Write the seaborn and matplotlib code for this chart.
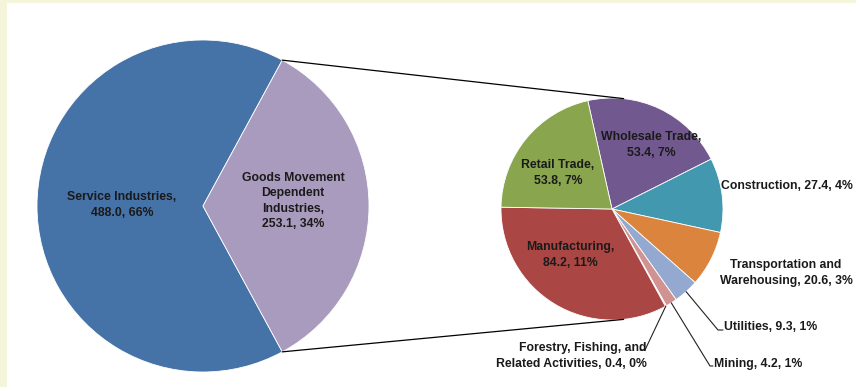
import numpy as np
import matplotlib
matplotlib.use("Agg")
import matplotlib.pyplot as plt
import seaborn as sns
from matplotlib.patches import Rectangle

sns.set_theme(style="white")
plt.rcParams['font.family'] = ['Liberation Sans', 'DejaVu Sans']

# ---- data ----
main_labels = ["Service Industries", "Goods Movement\nDependent\nIndustries"]
main_values = [488.0, 253.1]
main_pct = ["66%", "34%"]

sub_labels = ["Wholesale Trade", "Construction", "Transportation and\nWarehousing",
              "Utilities", "Mining", "Forestry, Fishing, and\nRelated Activities",
              "Manufacturing", "Retail Trade"]
sub_values = [53.4, 27.4, 20.6, 9.3, 4.2, 0.4, 84.2, 53.8]
sub_pct = ["7%", "4%", "3%", "1%", "1%", "0%", "11%", "7%"]

main_colors = ["#4572A7", "#A99BBD"]
sub_colors = ["#71588F", "#4198AF", "#DB843D", "#93A9CF", "#D19392", "#B9CD96",
              "#AA4643", "#89A54E"]

W, H = 856, 387
fig = plt.figure(figsize=(W / 100, H / 100), dpi=100)
fig.patch.set_facecolor("#F5F5DC")
ax = fig.add_axes([0, 0, 1, 1])
ax.set_xlim(0, W)
ax.set_ylim(0, H)
ax.set_aspect("equal")
ax.axis("off")
ax.add_patch(Rectangle((7, 0), W - 7, H - 3, facecolor="white", edgecolor="none", zorder=0))

def Y(y):
    return H - y

# main pie
c1 = (203, Y(206)); r1 = 166
goods_frac = main_values[1] / sum(main_values)
start1 = goods_frac * 360 / 2
w1, _ = ax.pie(main_values, colors=main_colors, startangle=start1, center=c1, radius=r1,
               frame=True, wedgeprops=dict(linewidth=0.6, edgecolor="white"))

# sub pie
c2 = (612, Y(209)); r2 = 111
w2, _ = ax.pie(sub_values, colors=sub_colors, startangle=102.6, counterclock=False,
               center=c2, radius=r2, frame=True,
               wedgeprops=dict(linewidth=0.6, edgecolor="white"))
ax.set_xlim(0, W)
ax.set_ylim(0, H)
ax.axis("off")

# connector lines
g = w1[1]
for th, th2 in [(g.theta2, 84), (g.theta1, -84)]:
    p1 = (c1[0] + r1 * np.cos(np.radians(th)), c1[1] + r1 * np.sin(np.radians(th)))
    p2 = (c2[0] + r2 * np.cos(np.radians(th2)), c2[1] + r2 * np.sin(np.radians(th2)))
    ax.plot([p1[0], p2[0]], [p1[1], p2[1]], color="black", lw=0.9, zorder=3)

fs = 8.8
tkw = dict(fontsize=fs, fontweight="bold", color="#1a1a1a", linespacing=1.35, zorder=5)

def lab(i, labels, values, pct):
    return f"{labels[i]}, {values[i]:.1f}, {pct[i]}"

ax.text(122, Y(205), f"{main_labels[0]},\n{main_values[0]:.1f}, {main_pct[0]}",
        ha="center", va="center", **tkw)
ax.text(293, Y(201), f"{main_labels[1]},\n{main_values[1]:.1f}, {main_pct[1]}",
        ha="center", va="center", **tkw)

ax.text(651, Y(145), f"{sub_labels[0]},\n{sub_values[0]:.1f}, {sub_pct[0]}", ha="center", va="center", **tkw)
ax.text(558, Y(173), f"{sub_labels[7]},\n{sub_values[7]:.1f}, {sub_pct[7]}", ha="center", va="center", **tkw)
ax.text(570, Y(255), f"{sub_labels[6]},\n{sub_values[6]:.1f}, {sub_pct[6]}", ha="center", va="center", **tkw)
ax.text(721, Y(186), lab(1, sub_labels, sub_values, sub_pct), ha="left", va="center", **tkw)
ax.text(786, Y(273), f"{sub_labels[2]}, {sub_values[2]:.1f}, {sub_pct[2]}", ha="center", va="center", **tkw)
ax.text(724, Y(327), lab(3, sub_labels, sub_values, sub_pct), ha="left", va="center", **tkw)
ax.text(714, Y(364), lab(4, sub_labels, sub_values, sub_pct), ha="left", va="center", **tkw)
ax.text(647, Y(356), f"{sub_labels[5]}, {sub_values[5]:.1f}, {sub_pct[5]}", ha="right", va="center",
        multialignment="right", **tkw)

# leader lines from wedge mid-angles
def mid(w):
    a = np.radians((w.theta1 + w.theta2) / 2)
    return c2[0] + r2 * np.cos(a), c2[1] + r2 * np.sin(a)

for idx, elbow, end in [(3, (718, Y(330)), (723, Y(330))),
                        (4, (710, Y(366)), (713, Y(366))),
                        (5, (645, Y(350)), (640, Y(350)))]:
    p = mid(w2[idx])
    ax.plot([p[0], elbow[0], end[0]], [p[1], elbow[1], end[1]], color="#222222", lw=0.8, zorder=4)

fig.savefig("out.png", dpi=100, facecolor=fig.get_facecolor())
